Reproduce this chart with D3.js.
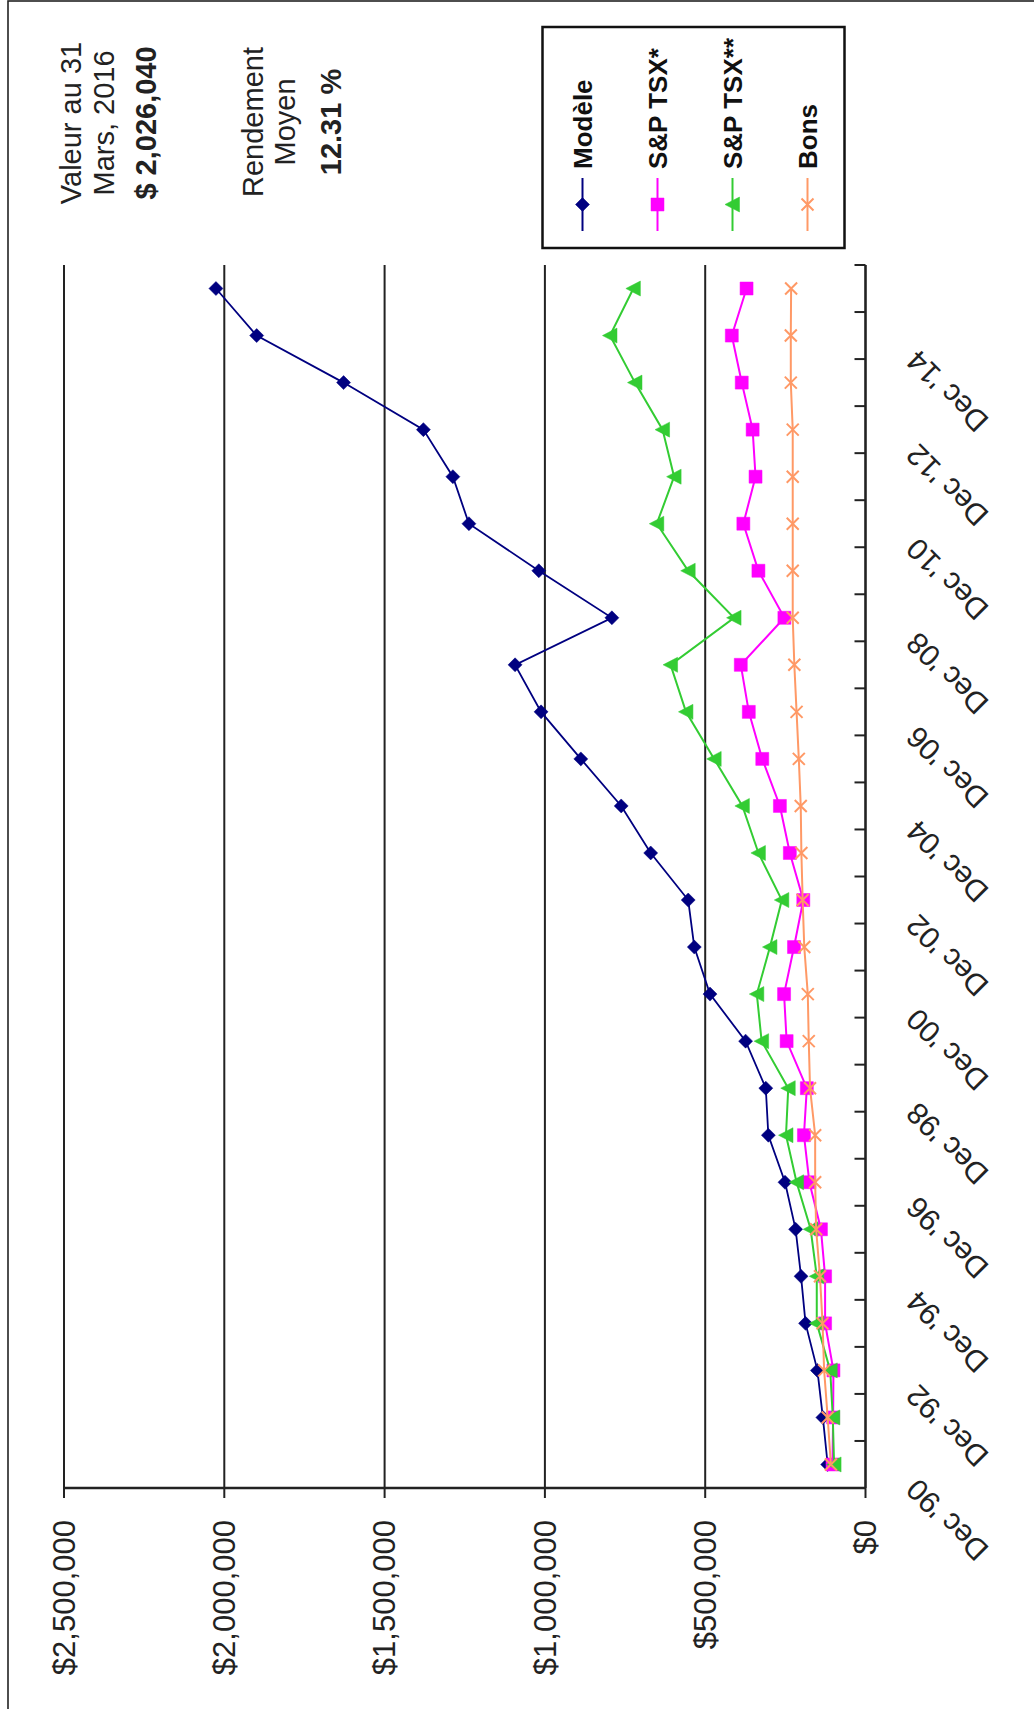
<!DOCTYPE html>
<html>
<head>
<meta charset="utf-8">
<script src="https://cdn.jsdelivr.net/npm/d3@7"></script>
<style>
  html, body { margin: 0; padding: 0; background: #fff; }
  svg { display: block; }
</style>
</head>
<body>
<svg id="chart" width="1034" height="1709"></svg>
<script>
// Year-end portfolio values, 1990 to March 2016
const categories = ["Dec '90", "Dec '91", "Dec '92", "Dec '93", "Dec '94", "Dec '95", "Dec '96", "Dec '97",
  "Dec '98", "Dec '99", "Dec '00", "Dec '01", "Dec '02", "Dec '03", "Dec '04", "Dec '05", "Dec '06",
  "Dec '07", "Dec '08", "Dec '09", "Dec '10", "Dec '11", "Dec '12", "Dec '13", "Dec '14", "Mar '16"];
const tickCategories = ["Dec '90", "Dec '92", "Dec '94", "Dec '96", "Dec '98", "Dec '00", "Dec '02",
  "Dec '04", "Dec '06", "Dec '08", "Dec '10", "Dec '12", "Dec '14"];

const modele = [118000, 133000, 150000, 187000, 201000, 218000, 251000, 303000, 311000, 374000, 485000,
  534000, 553000, 670000, 762000, 888000, 1012000, 1093000, 791000, 1019000, 1237000, 1287000, 1379000,
  1628000, 1899000, 2026040];
const tsxA = [103000, 101000, 100000, 126000, 126000, 139000, 175000, 192000, 183000, 246000, 254000,
  223000, 194000, 236000, 267000, 322000, 364000, 389000, 253000, 334000, 381000, 343000, 352000,
  386000, 417000, 371000];
const tsxB = [98000, 102000, 110000, 152000, 152000, 171000, 215000, 248000, 241000, 324000, 339000,
  298000, 261000, 334000, 384000, 472000, 560000, 608000, 410000, 553000, 651000, 597000, 633000,
  719000, 797000, 724000];
const bons = [108000, 118000, 129000, 134000, 142000, 154000, 157000, 157000, 173000, 177000, 180000,
  191000, 196000, 200000, 202000, 208000, 215000, 222000, 227000, 227000, 227000, 227000, 227000,
  233000, 233000, 232000];

const seriesNames = ["Modèle", "S&P TSX*", "S&P TSX**", "Bons"];
const seriesColors = ["#000080", "#FF00FF", "#33CC33", "#FF9966"];
const seriesMarkers = ["diamond", "square", "triangle", "cross"];
const seriesValues = [modele, tsxA, tsxB, bons];

const valueTicks = [0, 500000, 1000000, 1500000, 2000000, 2500000];
const valueTickLabels = ["$0", "$500,000", "$1,000,000", "$1,500,000", "$2,000,000", "$2,500,000"];

const infoLines1 = ["Valeur au 31", "Mars, 2016", "$ 2,026,040"];
const infoLines2 = ["Rendement", "Moyen", "12.31 %"];

const FONT = "'Liberation Sans', Arial, Helvetica, sans-serif";
const svg = d3.select("#chart");

// outer frame
svg.append("rect")
  .attr("x", 8).attr("y", 1).attr("width", 1200).attr("height", 1900)
  .attr("fill", "none").attr("stroke", "#222").attr("stroke-width", 1.6);

// the chart is laid out sideways: values run right-to-left, time runs bottom-to-top
const plot = { left: 64, right: 865.5, top: 265, bottom: 1488 };

const x = d3.scaleLinear().domain([0, 2500000]).range([plot.right, plot.left]);
const y = d3.scaleBand().domain(categories).range([plot.bottom, plot.top]).padding(0);
const yc = c => y(c) + y.bandwidth() / 2;

// gridlines
svg.append("g").selectAll("line")
  .data(valueTicks.filter(v => v > 0))
  .join("line")
  .attr("x1", d => x(d)).attr("x2", d => x(d))
  .attr("y1", plot.top).attr("y2", plot.bottom)
  .attr("stroke", "#222").attr("stroke-width", 2);

// value axis (bottom)
const vAxis = svg.append("g");
vAxis.append("line")
  .attr("x1", x(2500000)).attr("x2", x(0))
  .attr("y1", plot.bottom).attr("y2", plot.bottom)
  .attr("stroke", "#222").attr("stroke-width", 2.6);
vAxis.selectAll("line.tick")
  .data(valueTicks)
  .join("line").attr("class", "tick")
  .attr("x1", d => x(d)).attr("x2", d => x(d))
  .attr("y1", plot.bottom).attr("y2", plot.bottom + 10)
  .attr("stroke", "#222").attr("stroke-width", 2);
vAxis.selectAll("text")
  .data(valueTicks)
  .join("text")
  .attr("transform", d => `translate(${x(d)},${plot.bottom + 32}) rotate(-90)`)
  .attr("text-anchor", "end")
  .attr("dy", "0.35em")
  .attr("font-family", FONT).attr("font-size", 31).attr("fill", "#222")
  .text((d, i) => valueTickLabels[i]);

// time axis (right)
const tAxis = svg.append("g");
tAxis.append("line")
  .attr("x1", x(0)).attr("x2", x(0))
  .attr("y1", plot.top).attr("y2", plot.bottom)
  .attr("stroke", "#222").attr("stroke-width", 2.6);
const bounds = categories.map(c => y(c) + y.bandwidth()).concat([y(categories[categories.length - 1])]);
tAxis.selectAll("line.tick")
  .data(bounds)
  .join("line").attr("class", "tick")
  .attr("x1", x(0) - 11).attr("x2", x(0))
  .attr("y1", d => d).attr("y2", d => d)
  .attr("stroke", "#222").attr("stroke-width", 2);
tAxis.selectAll("text")
  .data(tickCategories)
  .join("text")
  .attr("transform", d => `translate(${x(0) + 46},${yc(d) + 20}) rotate(-135)`)
  .attr("text-anchor", "end")
  .attr("dy", "0.35em")
  .attr("font-family", FONT).attr("font-size", 30).attr("fill", "#222")
  .text(d => d);

// marker shapes
function markerPath(type) {
  switch (type) {
    case "diamond": return "M0,-7L7,0L0,7L-7,0Z";
    case "square": return "M-6.5,-6.5H6.5V6.5H-6.5Z";
    case "triangle": return "M-7.5,0L7,-7.5L7,7.5Z";
    case "cross": return "M-6,-6L6,6M-6,6L6,-6";
  }
}

const line = d3.line().x(d => x(d.v)).y(d => yc(d.c));

seriesValues.forEach((vals, si) => {
  const pts = categories.map((c, i) => ({ c, v: vals[i] }));
  const g = svg.append("g");
  g.append("path")
    .attr("d", line(pts))
    .attr("fill", "none")
    .attr("stroke", seriesColors[si])
    .attr("stroke-width", si === 0 ? 1.8 : 2);
  const isCross = seriesMarkers[si] === "cross";
  g.selectAll("path.m")
    .data(pts)
    .join("path").attr("class", "m")
    .attr("transform", d => `translate(${x(d.v)},${yc(d.c)})`)
    .attr("d", markerPath(seriesMarkers[si]))
    .attr("fill", isCross ? "none" : seriesColors[si])
    .attr("stroke", seriesColors[si])
    .attr("stroke-width", isCross ? 2 : 0.5);
});

// legend
const legend = svg.append("g");
legend.append("rect")
  .attr("x", 542.5).attr("y", 27).attr("width", 302).attr("height", 221)
  .attr("fill", "#fff").attr("stroke", "#111").attr("stroke-width", 2.5);
const legendStep = 75;
seriesNames.forEach((name, i) => {
  const lx = 582.5 + i * legendStep;
  legend.append("line")
    .attr("x1", lx).attr("x2", lx).attr("y1", 178).attr("y2", 231)
    .attr("stroke", seriesColors[i]).attr("stroke-width", 2);
  const isCross = seriesMarkers[i] === "cross";
  legend.append("path")
    .attr("transform", `translate(${lx},204.5)`)
    .attr("d", markerPath(seriesMarkers[i]))
    .attr("fill", isCross ? "none" : seriesColors[i])
    .attr("stroke", seriesColors[i])
    .attr("stroke-width", isCross ? 2 : 0.5);
  legend.append("text")
    .attr("transform", `translate(${lx + 9},169) rotate(-90)`)
    .attr("text-anchor", "start")
    .attr("font-family", FONT).attr("font-size", 26).attr("font-weight", "bold").attr("fill", "#111")
    .text(name);
});

// value and return notes
const infoBase1 = [81, 114, 156];
const infoBase2 = [263, 295, 341];
function infoBlock(lines, bases, cy) {
  lines.forEach((t, i) => {
    svg.append("text")
      .attr("transform", `translate(${bases[i]},${cy}) rotate(-90)`)
      .attr("text-anchor", "middle")
      .attr("font-family", FONT).attr("font-size", 29)
      .attr("font-weight", i === 2 ? "bold" : "normal")
      .attr("fill", "#222")
      .text(t);
  });
}
infoBlock(infoLines1, infoBase1, 123);
infoBlock(infoLines2, infoBase2, 122);
</script>
</body>
</html>
